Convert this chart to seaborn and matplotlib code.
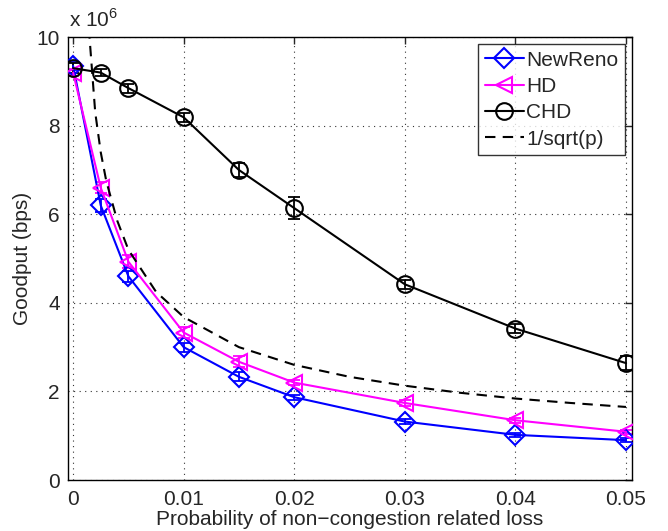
import numpy as np
import pandas as pd
import matplotlib
matplotlib.use("Agg")
import matplotlib.pyplot as plt
import seaborn as sns

p = [0, 0.0025, 0.005, 0.01, 0.015, 0.02, 0.03, 0.04, 0.05]
newreno = [9.35, 6.2, 4.6, 3.0, 2.33, 1.87, 1.32, 1.02, 0.9]
newreno_err = [0.1, 0.15, 0.12, 0.1, 0.1, 0.06, 0.06, 0.05, 0.05]
hd = [9.2, 6.6, 4.93, 3.33, 2.67, 2.2, 1.74, 1.35, 1.09]
hd_err = [0.08, 0.12, 0.15, 0.12, 0.12, 0.06, 0.06, 0.06, 0.05]
chd = [9.3, 9.2, 8.85, 8.19, 7.0, 6.14, 4.42, 3.42, 2.64]
chd_err = [0.12, 0.08, 0.1, 0.1, 0.15, 0.25, 0.1, 0.1, 0.15]
p_curve = [0.0013, 0.002, 0.0025, 0.003, 0.004, 0.005, 0.0075, 0.01, 0.015,
           0.02, 0.025, 0.03, 0.035, 0.04, 0.045, 0.05]
curve = [10.6, 8.3, 7.4, 6.75, 5.85, 5.2, 4.25, 3.68, 3.0,
         2.6, 2.33, 2.13, 1.97, 1.84, 1.74, 1.65]

sns.set_style("white")
plt.rcParams['font.family'] = ['Liberation Sans', 'DejaVu Sans']
plt.rcParams['mathtext.fontset'] = 'custom'
plt.rcParams['mathtext.rm'] = 'Liberation Sans'

FS = 15

fig = plt.figure(figsize=(6.68, 5.31), dpi=100)
ax = fig.add_axes([0.102, 0.096, 0.844, 0.834])

series = [
    ("NewReno", newreno, newreno_err, "#0000ff", "D", 10),
    ("HD", hd, hd_err, "#ff00ff", "<", 12),
    ("CHD", chd, chd_err, "#000000", "o", 12),
]
for name, vals, errs, col, mk, ms in series:
    y = np.array(vals) * 1e6
    e = np.array(errs) * 1e6
    ax.errorbar(p, y, yerr=e, fmt='none', ecolor=col, elinewidth=1.3, capsize=4, capthick=1.3, zorder=2)
    df = pd.DataFrame({"p": p, "g": y})
    sns.lineplot(data=df, x="p", y="g", ax=ax, color=col, marker=mk, markersize=ms,
                 markerfacecolor='none', markeredgecolor=col, markeredgewidth=1.5,
                 linewidth=1.5, label=name, zorder=3)

dfc = pd.DataFrame({"p": p_curve, "g": np.array(curve) * 1e6})
sns.lineplot(data=dfc, x="p", y="g", ax=ax, color='black', linestyle=(0, (5, 3.5)), linewidth=1.5,
             label="1/sqrt(p)", zorder=3)

ax.set_xlim(-0.00045, 0.05054)
ax.set_ylim(0, 10e6)
ax.set_xticks([0, 0.01, 0.02, 0.03, 0.04, 0.05])
ax.set_xticklabels(["0", "0.01", "0.02", "0.03", "0.04", "0.05"])
ax.set_yticks([0, 2e6, 4e6, 6e6, 8e6, 10e6])
ax.set_yticklabels(["0", "2", "4", "6", "8", "10"])
ax.tick_params(direction='in', labelsize=FS, length=5, top=True, right=True, width=1)
ax.tick_params(axis='x', pad=7)
ax.tick_params(axis='y', pad=6)
ax.grid(True, linestyle=(0, (1, 4)), color='#333333', linewidth=0.8)
for s in ax.spines.values():
    s.set_visible(True)
    s.set_color('black')
    s.set_linewidth(1)
ax.set_xlabel("Probability of non\u2212congestion related loss", fontsize=FS, labelpad=1)
ax.set_ylabel("Goodput (bps)", fontsize=FS, labelpad=3)
fig.text(0.103, 0.942, "x 10$^{6}$", fontsize=FS, ha='left', va='bottom')

leg = ax.legend(loc='upper right', fontsize=FS, frameon=True, fancybox=False,
                edgecolor='black', borderpad=0.3, labelspacing=0.35, handlelength=1.9,
                handletextpad=0.1, borderaxespad=0.35)
leg.get_frame().set_linewidth(1)

fig.savefig("out.png", dpi=100)
